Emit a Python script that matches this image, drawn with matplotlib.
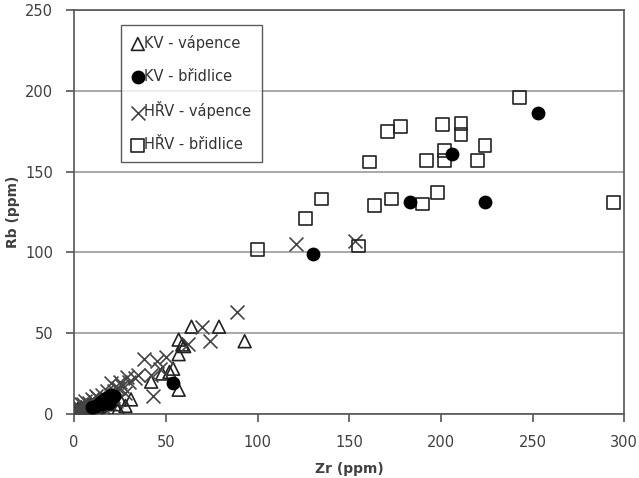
import matplotlib.pyplot as plt

plt.rcParams['font.family'] = ['DejaVu Sans']

# KV - vápence (trojúhelníky)
kv_vap_zr = [1, 2, 3, 4, 5, 6, 7, 8, 9, 10, 11, 12, 13, 14, 15, 16, 18, 20,
             22, 24, 25, 28, 31, 42, 48, 52, 54, 57, 57, 59, 57, 60, 64, 79, 93]
kv_vap_rb = [2, 3, 1, 4, 2, 5, 2, 3, 6, 4, 3, 6, 4, 5, 9, 8, 7, 10,
             6, 3, 9, 5, 9, 20, 25, 26, 28, 15, 37, 43, 46, 42, 54, 54, 45]

# KV - břidlice (plné kroužky)
kv_br_zr = [10, 12, 14, 15, 16, 17, 18, 19, 20, 22, 54, 130, 183, 206, 224, 253]
kv_br_rb = [4, 5, 7, 8, 6, 9, 10, 7, 12, 11, 19, 99, 131, 161, 131, 186]

# HŘV - vápence (křížky)
hrv_vap_zr = [0, 1, 2, 2, 3, 4, 4, 5, 6, 6, 7, 8, 8, 9, 10, 10, 11, 12, 12,
              13, 14, 15, 16, 17, 18, 19, 21, 23, 26, 28, 30, 33, 20, 22, 24,
              25, 29, 35, 38, 42, 43, 45, 47, 50, 62, 70, 74, 89, 121, 153]
hrv_vap_rb = [3, 2, 5, 1, 3, 1, 6, 6, 3, 8, 4, 7, 2, 2, 5, 9, 8, 3, 11,
              10, 6, 12, 4, 9, 14, 7, 11, 8, 17, 13, 20, 22, 19, 14, 16,
              20, 23, 24, 34, 24, 11, 33, 28, 35, 43, 54, 45, 63, 105, 107]

# HŘV - břidlice (prázdné čtverce)
hrv_br_zr = [100, 126, 135, 155, 161, 164, 171, 173, 178, 190, 192, 198, 201,
             202, 202, 211, 211, 220, 224, 243, 294]
hrv_br_rb = [102, 121, 133, 104, 156, 129, 175, 133, 178, 130, 157, 137, 179,
             163, 157, 180, 173, 157, 166, 196, 131]

fig = plt.figure(figsize=(6.39, 4.78), dpi=100)
ax = fig.add_axes([0.116, 0.134, 0.861, 0.845])

ax.scatter(kv_vap_zr, kv_vap_rb, marker='^', s=85, facecolors='none',
           edgecolors='#222222', linewidths=1.2, label='KV - vápence', zorder=3)
ax.scatter(kv_br_zr, kv_br_rb, marker='o', s=80, color='black',
           label='KV - břidlice', zorder=4)
ax.scatter(hrv_vap_zr, hrv_vap_rb, marker='x', s=100, color='#444444',
           linewidths=1.2, label='HŘV - vápence', zorder=3)
ax.scatter(hrv_br_zr, hrv_br_rb, marker='s', s=85, facecolors='none',
           edgecolors='#222222', linewidths=1.2, label='HŘV - břidlice', zorder=3)

ax.set_xlim(0, 300)
ax.set_ylim(0, 250)
ax.set_xticks(range(0, 301, 50))
ax.set_yticks(range(0, 251, 50))
ax.yaxis.grid(True, color='#999999', linewidth=1.2)
ax.set_axisbelow(True)
for sp in ax.spines.values():
    sp.set_color('#555555')
    sp.set_linewidth(1.2)
ax.tick_params(colors='#555555', labelcolor='#404040', labelsize=10.5,
               direction='out', length=6, width=1.2)
ax.tick_params(axis='x', pad=9)
ax.tick_params(axis='y', pad=9)

ax.set_xlabel('Zr (ppm)', fontsize=10, fontweight='bold', color='#404040',
              labelpad=9)
ax.set_ylabel('Rb (ppm)', fontsize=10, fontweight='bold', color='#404040',
              labelpad=4)

leg = ax.legend(loc='upper left', bbox_to_anchor=(0.072, 0.982), fontsize=10.5,
                frameon=True, fancybox=False, edgecolor='#333333',
                labelspacing=1.22, handletextpad=0.0, handlelength=0.9,
                borderpad=0.7)
leg.get_frame().set_linewidth(1.0)
for t in leg.get_texts():
    t.set_color('#333333')

plt.savefig('out.png', dpi=100)
